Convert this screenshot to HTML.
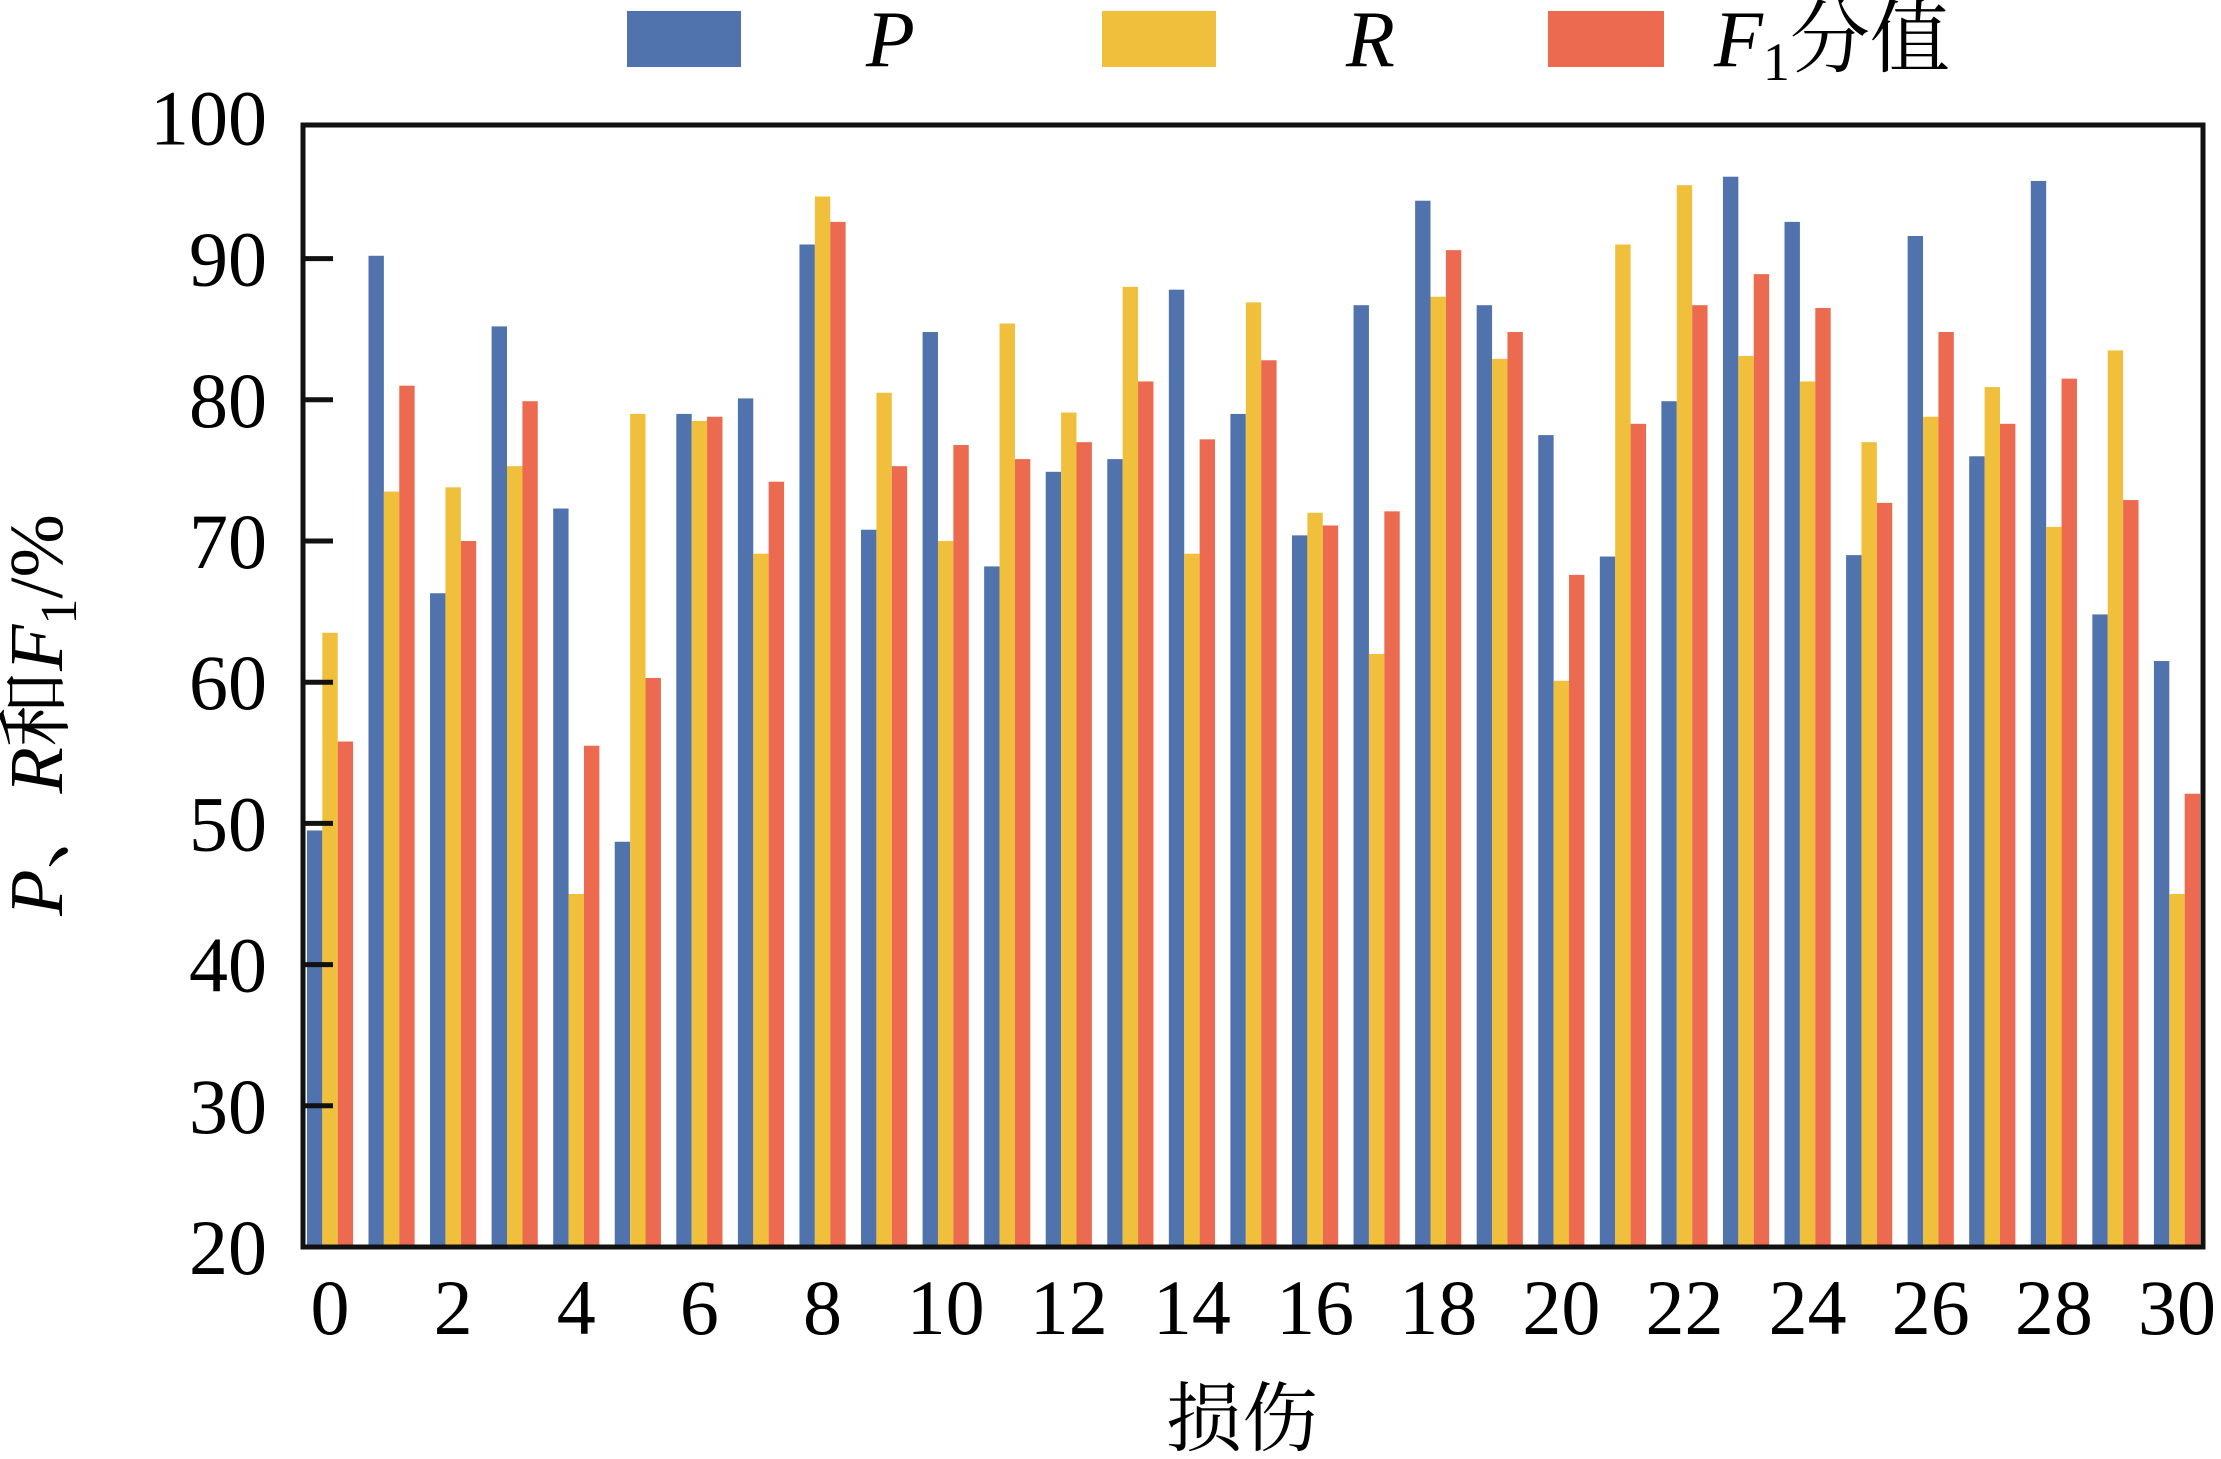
<!DOCTYPE html>
<html><head><meta charset="utf-8"><style>
html,body{margin:0;padding:0;background:#fff;}
svg{display:block;}
text{font-family:"Liberation Serif","Times New Roman","Noto Serif CJK SC",serif;}
</style></head><body>
<svg id="chart" width="2221" height="1459" viewBox="0 0 2221 1459" xmlns="http://www.w3.org/2000/svg">
<g id="bars"></g>
<g id="axes"></g>
<g>
 <rect x="627" y="11" width="114" height="56" fill="#5073ad"/>
 <text x="866" y="66" font-size="80" font-style="italic">P</text>
 <rect x="1102" y="11" width="114" height="56" fill="#f0c03c"/>
 <text x="1346" y="66" font-size="80" font-style="italic">R</text>
 <rect x="1548" y="11" width="116" height="56" fill="#ec6a4f"/>
 <text x="1714" y="66" font-size="80"><tspan font-style="italic">F</tspan><tspan font-size="54" dy="14">1</tspan><tspan dy="-14">分值</tspan></text>
</g>
<text transform="translate(62,715) rotate(-90)" text-anchor="middle" font-size="76"><tspan font-style="italic">P</tspan>、<tspan font-style="italic">R</tspan>和<tspan font-style="italic">F</tspan><tspan font-size="52" dy="14">1</tspan><tspan dy="-14">/%</tspan></text>
<text x="1242" y="1445" text-anchor="middle" font-size="76">损伤</text>
</svg>
<script>
const categories=[0,1,2,3,4,5,6,7,8,9,10,11,12,13,14,15,16,17,18,19,20,21,22,23,24,25,26,27,28,29,30];
const seriesP=[49.5,90.2,66.3,85.2,72.3,48.7,79,80.1,91,70.8,84.8,68.2,74.9,75.8,87.8,79,70.4,86.7,94.1,86.7,77.5,68.9,79.9,95.8,92.6,69,91.6,76,95.5,64.8,61.5];
const seriesR=[63.5,73.5,73.8,75.3,45,79,78.5,69.1,94.4,80.5,70,85.4,79.1,88,69.1,86.9,72,62,87.3,82.9,60.1,91,95.2,83.1,81.3,77,78.8,80.9,71,83.5,45];
const seriesF=[55.8,81,70,79.9,55.5,60.3,78.8,74.2,92.6,75.3,76.8,75.8,77,81.3,77.2,82.8,71.1,72.1,90.6,84.8,67.6,78.3,86.7,88.9,86.5,72.7,84.8,78.3,81.5,72.9,52.1];
const yTicks=[20,30,40,50,60,70,80,90,100];
const xTicks=[0,2,4,6,8,10,12,14,16,18,20,22,24,26,28,30];
const NS="http://www.w3.org/2000/svg";
const L=303,R=2203,T=125,B=1247;
const x=v=>330+(v-0)*(2177-330)/30;
const y=v=>B-(v-20)*141.2/10;
const bw=(x(1)-x(0))/4;
const bars=document.getElementById('bars'),axes=document.getElementById('axes');
function mk(tag,attrs,parent){const e=document.createElementNS(NS,tag);for(const k in attrs)e.setAttribute(k,attrs[k]);parent.appendChild(e);return e;}
const series=[[seriesP,'#5073ad',-1.5,'p'],[seriesR,'#f0c03c',-0.5,'r'],[seriesF,'#ec6a4f',0.5,'f1']];
series.forEach(([vals,col,off,nm])=>{
 categories.forEach((c,i)=>{
  const r=mk('rect',{x:x(c)+off*bw,y:y(vals[i]),width:bw,height:B-y(vals[i]),fill:col},bars);
  
  
 });
});
const fr=mk('rect',{x:L,y:T,width:R-L,height:B-T,fill:'none',stroke:'#111',"stroke-width":5},axes);


yTicks.forEach(v=>{
 if(v>20&&v<100){const t=mk('line',{x1:L,x2:L+30,y1:y(v),y2:y(v),stroke:'#111',"stroke-width":5},axes);
 
 }
 const tx=mk('text',{x:267,y:y(v)+27,"text-anchor":"end","font-size":78},axes);
 tx.textContent=v;
 
 
});
xTicks.forEach(v=>{
 const tx=mk('text',{x:x(v),y:1334,"text-anchor":"middle","font-size":78},axes);
 tx.textContent=v;
 
 
});
</script>
</body></html>
